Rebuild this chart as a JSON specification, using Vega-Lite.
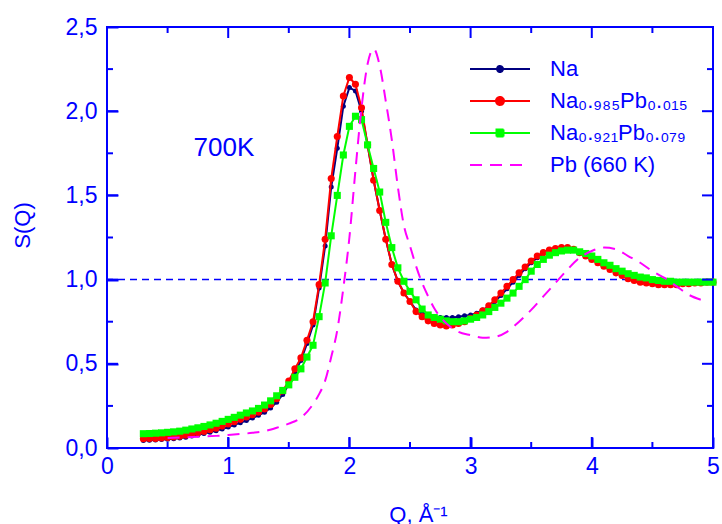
{
  "$schema": "https://vega.github.io/schema/vega-lite/v6.json",
  "width": 606,
  "height": 421,
  "autosize": {"type": "none"},
  "padding": {"left": 107, "top": 27, "right": 9, "bottom": 76},
  "background": "white",
  "config": {
    "view": {"stroke": "#0000ff", "strokeWidth": 2},
    "font": "Liberation Sans",
    "axis": {
      "grid": false,
      "domain": false,
      "labelColor": "#0000ff",
      "labelFont": "Liberation Sans",
      "labelFontSize": 23,
      "labelFlush": false,
      "titleColor": "#0000ff",
      "titleFont": "Liberation Sans",
      "titleFontSize": 22,
      "titleFontWeight": "normal",
      "labelOverlap": false
    }
  },
  "datasets": {
    "xmaj": [{"v": 0}, {"v": 1}, {"v": 2}, {"v": 3}, {"v": 4}, {"v": 5}],
    "xmin": [{"v": 0.5}, {"v": 1.5}, {"v": 2.5}, {"v": 3.5}, {"v": 4.5}],
    "ymaj": [{"v": 0}, {"v": 0.5}, {"v": 1}, {"v": 1.5}, {"v": 2}, {"v": 2.5}],
    "ymin": [{"v": 0.25}, {"v": 0.75}, {"v": 1.25}, {"v": 1.75}, {"v": 2.25}],
    "main": [
      {"q": 0.30, "Na": 0.045, "A": 0.055, "B": 0.085},
      {"q": 0.35, "Na": 0.046, "A": 0.056, "B": 0.086},
      {"q": 0.40, "Na": 0.048, "A": 0.057, "B": 0.088},
      {"q": 0.45, "Na": 0.050, "A": 0.059, "B": 0.090},
      {"q": 0.50, "Na": 0.052, "A": 0.062, "B": 0.093},
      {"q": 0.55, "Na": 0.055, "A": 0.066, "B": 0.096},
      {"q": 0.60, "Na": 0.060, "A": 0.070, "B": 0.100},
      {"q": 0.65, "Na": 0.064, "A": 0.076, "B": 0.106},
      {"q": 0.70, "Na": 0.072, "A": 0.083, "B": 0.113},
      {"q": 0.75, "Na": 0.078, "A": 0.090, "B": 0.120},
      {"q": 0.80, "Na": 0.086, "A": 0.098, "B": 0.128},
      {"q": 0.85, "Na": 0.094, "A": 0.108, "B": 0.137},
      {"q": 0.90, "Na": 0.103, "A": 0.118, "B": 0.147},
      {"q": 0.95, "Na": 0.113, "A": 0.130, "B": 0.158},
      {"q": 1.00, "Na": 0.125, "A": 0.143, "B": 0.170},
      {"q": 1.05, "Na": 0.137, "A": 0.156, "B": 0.182},
      {"q": 1.10, "Na": 0.150, "A": 0.170, "B": 0.195},
      {"q": 1.15, "Na": 0.163, "A": 0.184, "B": 0.208},
      {"q": 1.20, "Na": 0.178, "A": 0.198, "B": 0.220},
      {"q": 1.25, "Na": 0.194, "A": 0.213, "B": 0.235},
      {"q": 1.30, "Na": 0.213, "A": 0.232, "B": 0.255},
      {"q": 1.35, "Na": 0.238, "A": 0.258, "B": 0.280},
      {"q": 1.40, "Na": 0.272, "A": 0.292, "B": 0.310},
      {"q": 1.45, "Na": 0.318, "A": 0.338, "B": 0.342},
      {"q": 1.50, "Na": 0.378, "A": 0.398, "B": 0.375},
      {"q": 1.55, "Na": 0.450, "A": 0.470, "B": 0.420},
      {"q": 1.60, "Na": 0.520, "A": 0.535, "B": 0.470},
      {"q": 1.65, "Na": 0.620, "A": 0.640, "B": 0.540},
      {"q": 1.70, "Na": 0.730, "A": 0.750, "B": 0.610},
      {"q": 1.75, "Na": 0.950, "A": 0.970, "B": 0.780},
      {"q": 1.80, "Na": 1.200, "A": 1.240, "B": 0.980},
      {"q": 1.85, "Na": 1.550, "A": 1.600, "B": 1.260},
      {"q": 1.90, "Na": 1.780, "A": 1.850, "B": 1.500},
      {"q": 1.95, "Na": 2.030, "A": 2.090, "B": 1.740},
      {"q": 2.00, "Na": 2.140, "A": 2.200, "B": 1.910},
      {"q": 2.05, "Na": 2.120, "A": 2.160, "B": 1.970},
      {"q": 2.10, "Na": 2.000, "A": 2.020, "B": 1.950},
      {"q": 2.15, "Na": 1.800, "A": 1.800, "B": 1.800},
      {"q": 2.20, "Na": 1.590, "A": 1.590, "B": 1.660},
      {"q": 2.25, "Na": 1.410, "A": 1.410, "B": 1.520},
      {"q": 2.30, "Na": 1.240, "A": 1.240, "B": 1.340},
      {"q": 2.35, "Na": 1.090, "A": 1.090, "B": 1.190},
      {"q": 2.40, "Na": 0.990, "A": 0.990, "B": 1.070},
      {"q": 2.45, "Na": 0.920, "A": 0.920, "B": 0.990},
      {"q": 2.50, "Na": 0.870, "A": 0.870, "B": 0.930},
      {"q": 2.55, "Na": 0.820, "A": 0.810, "B": 0.880},
      {"q": 2.60, "Na": 0.800, "A": 0.780, "B": 0.825},
      {"q": 2.65, "Na": 0.785, "A": 0.755, "B": 0.790},
      {"q": 2.70, "Na": 0.780, "A": 0.740, "B": 0.775},
      {"q": 2.75, "Na": 0.775, "A": 0.730, "B": 0.765},
      {"q": 2.80, "Na": 0.775, "A": 0.725, "B": 0.755},
      {"q": 2.85, "Na": 0.775, "A": 0.730, "B": 0.750},
      {"q": 2.90, "Na": 0.780, "A": 0.740, "B": 0.750},
      {"q": 2.95, "Na": 0.785, "A": 0.750, "B": 0.755},
      {"q": 3.00, "Na": 0.790, "A": 0.770, "B": 0.765},
      {"q": 3.05, "Na": 0.800, "A": 0.790, "B": 0.775},
      {"q": 3.10, "Na": 0.820, "A": 0.815, "B": 0.790},
      {"q": 3.15, "Na": 0.840, "A": 0.845, "B": 0.810},
      {"q": 3.20, "Na": 0.870, "A": 0.880, "B": 0.835},
      {"q": 3.25, "Na": 0.905, "A": 0.920, "B": 0.860},
      {"q": 3.30, "Na": 0.945, "A": 0.960, "B": 0.890},
      {"q": 3.35, "Na": 0.985, "A": 1.000, "B": 0.920},
      {"q": 3.40, "Na": 1.025, "A": 1.040, "B": 0.960},
      {"q": 3.45, "Na": 1.065, "A": 1.075, "B": 1.000},
      {"q": 3.50, "Na": 1.100, "A": 1.110, "B": 1.050},
      {"q": 3.55, "Na": 1.130, "A": 1.140, "B": 1.090},
      {"q": 3.60, "Na": 1.155, "A": 1.160, "B": 1.120},
      {"q": 3.65, "Na": 1.170, "A": 1.175, "B": 1.145},
      {"q": 3.70, "Na": 1.180, "A": 1.185, "B": 1.160},
      {"q": 3.75, "Na": 1.185, "A": 1.190, "B": 1.170},
      {"q": 3.80, "Na": 1.185, "A": 1.190, "B": 1.175},
      {"q": 3.85, "Na": 1.175, "A": 1.180, "B": 1.175},
      {"q": 3.90, "Na": 1.160, "A": 1.160, "B": 1.165},
      {"q": 3.95, "Na": 1.140, "A": 1.140, "B": 1.155},
      {"q": 4.00, "Na": 1.120, "A": 1.120, "B": 1.140},
      {"q": 4.05, "Na": 1.100, "A": 1.100, "B": 1.120},
      {"q": 4.10, "Na": 1.080, "A": 1.080, "B": 1.100},
      {"q": 4.15, "Na": 1.060, "A": 1.060, "B": 1.085},
      {"q": 4.20, "Na": 1.040, "A": 1.040, "B": 1.065},
      {"q": 4.25, "Na": 1.025, "A": 1.025, "B": 1.050},
      {"q": 4.30, "Na": 1.010, "A": 1.005, "B": 1.035},
      {"q": 4.35, "Na": 0.995, "A": 0.995, "B": 1.025},
      {"q": 4.40, "Na": 0.985, "A": 0.985, "B": 1.015},
      {"q": 4.45, "Na": 0.980, "A": 0.980, "B": 1.010},
      {"q": 4.50, "Na": 0.975, "A": 0.975, "B": 1.000},
      {"q": 4.55, "Na": 0.970, "A": 0.970, "B": 0.995},
      {"q": 4.60, "Na": 0.970, "A": 0.970, "B": 0.990},
      {"q": 4.65, "Na": 0.970, "A": 0.970, "B": 0.990},
      {"q": 4.70, "Na": 0.970, "A": 0.970, "B": 0.985},
      {"q": 4.75, "Na": 0.975, "A": 0.975, "B": 0.985},
      {"q": 4.80, "Na": 0.975, "A": 0.975, "B": 0.985},
      {"q": 4.85, "Na": 0.980, "A": 0.980, "B": 0.985},
      {"q": 4.90, "Na": 0.980, "A": 0.980, "B": 0.985},
      {"q": 4.95, "Na": 0.985, "A": 0.985, "B": 0.985},
      {"q": 5.00, "Na": 0.985, "A": 0.985, "B": 0.985}
    ],
    "pb": [
      {"q": 0.50, "Pb": 0.060},
      {"q": 0.70, "Pb": 0.065},
      {"q": 0.90, "Pb": 0.072},
      {"q": 1.00, "Pb": 0.077},
      {"q": 1.10, "Pb": 0.083},
      {"q": 1.20, "Pb": 0.090},
      {"q": 1.30, "Pb": 0.100},
      {"q": 1.40, "Pb": 0.120},
      {"q": 1.50, "Pb": 0.145},
      {"q": 1.60, "Pb": 0.180},
      {"q": 1.70, "Pb": 0.260},
      {"q": 1.75, "Pb": 0.320},
      {"q": 1.80, "Pb": 0.400},
      {"q": 1.85, "Pb": 0.540},
      {"q": 1.90, "Pb": 0.700},
      {"q": 1.95, "Pb": 0.950},
      {"q": 2.00, "Pb": 1.250},
      {"q": 2.05, "Pb": 1.650},
      {"q": 2.10, "Pb": 2.020},
      {"q": 2.15, "Pb": 2.280},
      {"q": 2.20, "Pb": 2.370},
      {"q": 2.25, "Pb": 2.270},
      {"q": 2.30, "Pb": 2.060},
      {"q": 2.35, "Pb": 1.830},
      {"q": 2.40, "Pb": 1.550},
      {"q": 2.45, "Pb": 1.320},
      {"q": 2.50, "Pb": 1.200},
      {"q": 2.55, "Pb": 1.080},
      {"q": 2.60, "Pb": 0.980},
      {"q": 2.65, "Pb": 0.900},
      {"q": 2.70, "Pb": 0.830},
      {"q": 2.80, "Pb": 0.740},
      {"q": 2.90, "Pb": 0.690},
      {"q": 3.00, "Pb": 0.670},
      {"q": 3.10, "Pb": 0.655},
      {"q": 3.20, "Pb": 0.660},
      {"q": 3.30, "Pb": 0.690},
      {"q": 3.40, "Pb": 0.750},
      {"q": 3.50, "Pb": 0.820},
      {"q": 3.60, "Pb": 0.900},
      {"q": 3.70, "Pb": 0.980},
      {"q": 3.80, "Pb": 1.060},
      {"q": 3.90, "Pb": 1.130},
      {"q": 4.00, "Pb": 1.170},
      {"q": 4.10, "Pb": 1.190},
      {"q": 4.20, "Pb": 1.180},
      {"q": 4.30, "Pb": 1.140},
      {"q": 4.40, "Pb": 1.100},
      {"q": 4.50, "Pb": 1.050},
      {"q": 4.60, "Pb": 1.010},
      {"q": 4.70, "Pb": 0.960},
      {"q": 4.80, "Pb": 0.910},
      {"q": 4.90, "Pb": 0.880}
    ]
  },
  "layer": [
    {
      "data": {"name": "main"},
      "mark": {"type": "line", "opacity": 0},
      "encoding": {
        "x": {
          "field": "q", "type": "quantitative",
          "scale": {"domain": [0, 5], "nice": false, "zero": false},
          "axis": {
            "orient": "bottom",
            "values": [0, 1, 2, 3, 4, 5],
            "offset": -11,
            "tickColor": "blue",
            "tickWidth": 2,
            "tickSize": 11,
            "labelExpr": "format(datum.value, 'd')",
            "labelPadding": 7,
            "title": "Q, Å⁻¹",
            "titleX": 311,
            "titleY": 84,
            "titleBaseline": "alphabetic",
            "titleAlign": "center"
          }
        },
        "y": {
          "field": "Na", "type": "quantitative",
          "scale": {"domain": [0, 2.5], "nice": false, "zero": false},
          "axis": {
            "orient": "left",
            "values": [0, 0.5, 1, 1.5, 2, 2.5],
            "offset": -11,
            "tickColor": "blue",
            "tickWidth": 2,
            "tickSize": 11,
            "labelExpr": "replace(format(datum.value, '.1f'), '.', ',')",
            "labelPadding": 10,
            "title": "S(Q)",
            "titleX": -96,
            "titleY": 198,
            "titleAngle": -90,
            "titleBaseline": "middle",
            "titleAlign": "center"
          }
        }
      }
    },
    {
      "data": {"values": [{"ref": 1}]},
      "mark": {"type": "rule", "color": "#0000ff", "strokeDash": [7, 5], "strokeWidth": 1.5},
      "encoding": {
        "y": {"field": "ref", "type": "quantitative", "axis": null}
      }
    },
    {
      "data": {"name": "main"},
      "mark": {"type": "line", "strokeWidth": 2},
      "encoding": {
        "x": {"field": "q", "type": "quantitative", "axis": null},
        "y": {"field": "Na", "type": "quantitative", "axis": null},
        "color": {
          "datum": "Na",
          "scale": {"domain": ["Na", "A", "B", "Pb"], "range": ["#000080", "#ff0000", "#00ff00", "#ff00ff"]},
          "legend": {
            "orient": "none",
            "legendX": 382,
            "legendY": 31,
            "title": null,
            "padding": 0,
            "labelFont": "Liberation Sans",
            "labelFontSize": 22,
            "labelColor": "#0000ff",
            "labelLimit": 0,
            "labelOffset": 39,
            "rowPadding": 10,
            "symbolSize": 100,
            "symbolStrokeWidth": 2,
            "labelExpr": "datum.label === 'A' ? 'Na₀.₉₈₅Pb₀.₀₁₅' : datum.label === 'B' ? 'Na₀.₉₂₁Pb₀.₀₇₉' : datum.label === 'Pb' ? 'Pb (660 K)' : datum.label",
            "encode": {
              "symbols": {
                "update": {
                  "shape": {"signal": "datum.value === 'Na' ? 'M-6,0H6M-0.6,0A0.6,0.6,0,1,0,0.6,0A0.6,0.6,0,1,0,-0.6,0Z' : datum.value === 'A' ? 'M-6,0H6M-0.8,0A0.8,0.8,0,1,0,0.8,0A0.8,0.8,0,1,0,-0.8,0Z' : datum.value === 'B' ? 'M-6,0H6M-0.7,-0.7H0.7V0.7H-0.7Z' : 'M-6,0H6'"},
                  "strokeDash": {"signal": "datum.value === 'Pb' ? [12, 8] : [1, 0]"},
                  "fill": {"scale": "color", "field": "value"},
                  "stroke": {"scale": "color", "field": "value"},
                  "strokeWidth": {"value": 2},
                  "opacity": {"value": 1}
                }
              }
            }
          }
        }
      }
    },
    {
      "data": {"name": "main"},
      "mark": {"type": "point", "filled": true, "size": 25, "opacity": 1},
      "encoding": {
        "x": {"field": "q", "type": "quantitative", "axis": null},
        "y": {"field": "Na", "type": "quantitative", "axis": null},
        "color": {"datum": "Na"}
      }
    },
    {
      "data": {"name": "main"},
      "mark": {"type": "line", "strokeWidth": 2},
      "encoding": {
        "x": {"field": "q", "type": "quantitative", "axis": null},
        "y": {"field": "A", "type": "quantitative", "axis": null},
        "color": {"datum": "A"}
      }
    },
    {
      "data": {"name": "main"},
      "mark": {"type": "point", "filled": true, "size": 50, "opacity": 1},
      "encoding": {
        "x": {"field": "q", "type": "quantitative", "axis": null},
        "y": {"field": "A", "type": "quantitative", "axis": null},
        "color": {"datum": "A"}
      }
    },
    {
      "data": {"name": "main"},
      "mark": {"type": "line", "strokeWidth": 2},
      "encoding": {
        "x": {"field": "q", "type": "quantitative", "axis": null},
        "y": {"field": "B", "type": "quantitative", "axis": null},
        "color": {"datum": "B"}
      }
    },
    {
      "data": {"name": "main"},
      "mark": {"type": "square", "filled": true, "size": 50, "opacity": 1},
      "encoding": {
        "x": {"field": "q", "type": "quantitative", "axis": null},
        "y": {"field": "B", "type": "quantitative", "axis": null},
        "color": {"datum": "B"}
      }
    },
    {
      "data": {"name": "pb"},
      "mark": {"type": "line", "strokeWidth": 2, "strokeDash": [12, 8], "interpolate": "monotone"},
      "encoding": {
        "x": {"field": "q", "type": "quantitative", "axis": null},
        "y": {"field": "Pb", "type": "quantitative", "axis": null},
        "color": {"datum": "Pb"}
      }
    },
    {
      "data": {"values": [{"q": 0.965, "s": 1.78, "t": "700K"}]},
      "mark": {"type": "text", "fontSize": 26, "color": "#0000ff", "font": "Liberation Sans", "align": "center", "baseline": "middle"},
      "encoding": {
        "x": {"field": "q", "type": "quantitative", "axis": null},
        "y": {"field": "s", "type": "quantitative", "axis": null},
        "text": {"field": "t"}
      }
    },
    {
      "data": {"name": "xmaj"},
      "mark": {"type": "tick", "orient": "vertical", "size": 11, "thickness": 2, "color": "#0000ff", "opacity": 1, "yOffset": -5.5},
      "encoding": {
        "x": {"field": "v", "type": "quantitative", "axis": null},
        "y": {"datum": 0, "type": "quantitative", "axis": null}
      }
    },
    {
      "data": {"name": "xmaj"},
      "mark": {"type": "tick", "orient": "vertical", "size": 11, "thickness": 2, "color": "#0000ff", "opacity": 1, "yOffset": 5.5},
      "encoding": {
        "x": {"field": "v", "type": "quantitative", "axis": null},
        "y": {"datum": 2.5, "type": "quantitative", "axis": null}
      }
    },
    {
      "data": {"name": "xmin"},
      "mark": {"type": "tick", "orient": "vertical", "size": 6, "thickness": 2, "color": "#0000ff", "opacity": 1, "yOffset": -3},
      "encoding": {
        "x": {"field": "v", "type": "quantitative", "axis": null},
        "y": {"datum": 0, "type": "quantitative", "axis": null}
      }
    },
    {
      "data": {"name": "xmin"},
      "mark": {"type": "tick", "orient": "vertical", "size": 6, "thickness": 2, "color": "#0000ff", "opacity": 1, "yOffset": 3},
      "encoding": {
        "x": {"field": "v", "type": "quantitative", "axis": null},
        "y": {"datum": 2.5, "type": "quantitative", "axis": null}
      }
    },
    {
      "data": {"name": "ymaj"},
      "mark": {"type": "tick", "orient": "horizontal", "size": 11, "thickness": 2, "color": "#0000ff", "opacity": 1, "xOffset": 5.5},
      "encoding": {
        "y": {"field": "v", "type": "quantitative", "axis": null},
        "x": {"datum": 0, "type": "quantitative", "axis": null}
      }
    },
    {
      "data": {"name": "ymaj"},
      "mark": {"type": "tick", "orient": "horizontal", "size": 11, "thickness": 2, "color": "#0000ff", "opacity": 1, "xOffset": -5.5},
      "encoding": {
        "y": {"field": "v", "type": "quantitative", "axis": null},
        "x": {"datum": 5, "type": "quantitative", "axis": null}
      }
    },
    {
      "data": {"name": "ymin"},
      "mark": {"type": "tick", "orient": "horizontal", "size": 6, "thickness": 2, "color": "#0000ff", "opacity": 1, "xOffset": 3},
      "encoding": {
        "y": {"field": "v", "type": "quantitative", "axis": null},
        "x": {"datum": 0, "type": "quantitative", "axis": null}
      }
    },
    {
      "data": {"name": "ymin"},
      "mark": {"type": "tick", "orient": "horizontal", "size": 6, "thickness": 2, "color": "#0000ff", "opacity": 1, "xOffset": -3},
      "encoding": {
        "y": {"field": "v", "type": "quantitative", "axis": null},
        "x": {"datum": 5, "type": "quantitative", "axis": null}
      }
    }
  ],
  "resolve": {"axis": {"x": "independent", "y": "independent"}}
}
